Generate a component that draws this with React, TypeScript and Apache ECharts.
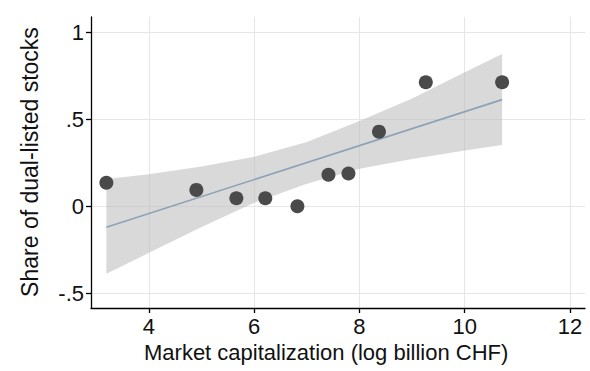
import React, { useEffect, useRef } from "react";
import * as echarts from "echarts";

// Scatter points: market cap (log billion CHF) vs share of dual-listed stocks
const capX = [3.19, 4.9, 5.66, 6.21, 6.82, 7.41, 7.79, 8.37, 9.26, 10.71];
const shareY = [0.135, 0.094, 0.046, 0.046, 0, 0.181, 0.188, 0.429, 0.713, 0.713];

// Fitted line end points
const fitX = [3.19, 10.71];
const fitY = [-0.121, 0.613];

// Confidence band
const bandX = [3.19, 4, 5, 6, 7, 8, 9, 10, 10.71];
const bandUpper = [0.156, 0.184, 0.228, 0.285, 0.37, 0.49, 0.62, 0.77, 0.875];
const bandLower = [-0.388, -0.268, -0.12, 0.02, 0.13, 0.215, 0.272, 0.32, 0.352];

// Axis settings
const xTicks = [4, 6, 8, 10, 12];
const yTicks = [-0.5, 0, 0.5, 1];
const xTitle = "Market capitalization (log billion CHF)";
const yTitle = "Share of dual-listed stocks";

const FONT = "Liberation Sans, Arial, Helvetica, sans-serif";
const FS = 22;

export default function App() {
  const ref = useRef<HTMLDivElement>(null);
  useEffect(() => {
    if (!ref.current) return;
    const chart = echarts.init(ref.current, undefined, { renderer: "svg" });
    const fmtY = (v: number) => {
      if (v === 0) return "0";
      return String(v).replace(/^(-?)0\./, "$1.");
    };
    chart.setOption({
      animation: false,
      backgroundColor: "#ffffff",
      grid: { left: 91, right: 5, top: 17, bottom: 63, containLabel: false },
      graphic: [
        {
          type: "text",
          left: 144,
          top: 341,
          style: { text: xTitle, font: `${FS}px ${FONT}`, fill: "#111" },
        },
        {
          type: "text",
          x: 30,
          y: 162,
          rotation: Math.PI / 2,
          style: {
            text: yTitle,
            font: `23px ${FONT}`,
            fill: "#111",
            align: "center",
            verticalAlign: "middle",
          },
        },
      ],
      xAxis: {
        type: "value",
        min: 2.898,
        max: 12.285,
        axisLine: { show: true, onZero: false, lineStyle: { color: "#000", width: 1.3 } },
        axisTick: { show: true, length: 5, lineStyle: { color: "#000", width: 1.3 }, customValues: xTicks },
        axisLabel: {
          fontFamily: FONT,
          fontSize: FS,
          color: "#111",
          margin: 7,
          customValues: xTicks,
        },
        splitLine: { show: true, lineStyle: { color: "#e6e6e6", width: 1 } },
      },
      yAxis: {
        type: "value",
        min: -0.585,
        max: 1.088,
        axisLine: { show: true, onZero: false, lineStyle: { color: "#000", width: 1.3 } },
        axisTick: { show: true, length: 5, lineStyle: { color: "#000", width: 1.3 }, customValues: yTicks },
        axisLabel: {
          fontFamily: FONT,
          fontSize: FS,
          color: "#111",
          margin: 7,
          customValues: yTicks,
          formatter: fmtY,
        },
        splitLine: { show: true, lineStyle: { color: "#e6e6e6", width: 1 } },
      },
      series: [
        {
          type: "custom",
          coordinateSystem: "cartesian2d",
          data: [[bandX[0], bandLower[0]]],
          silent: true,
          z: 1,
          renderItem: (_params: any, api: any) => {
            const pts: number[][] = [];
            for (let i = 0; i < bandX.length; i++) pts.push(api.coord([bandX[i], bandUpper[i]]));
            for (let i = bandX.length - 1; i >= 0; i--) pts.push(api.coord([bandX[i], bandLower[i]]));
            return {
              type: "polygon",
              shape: { points: pts, smooth: 0 },
              style: { fill: "rgba(185,185,185,0.55)", stroke: "none" },
            };
          },
        },
        {
          type: "line",
          data: fitX.map((x, i) => [x, fitY[i]]),
          showSymbol: false,
          lineStyle: { color: "#8da2b6", width: 1.6 },
          z: 2,
        },
        {
          type: "scatter",
          data: capX.map((x, i) => [x, shareY[i]]),
          symbolSize: 14,
          itemStyle: { color: "#4a4a4a", opacity: 1 },
          z: 3,
        },
      ],
    });
    return () => chart.dispose();
  }, []);
  return <div ref={ref} style={{ width: 590, height: 371, position: "absolute", left: 0, top: 0 }} />;
}
